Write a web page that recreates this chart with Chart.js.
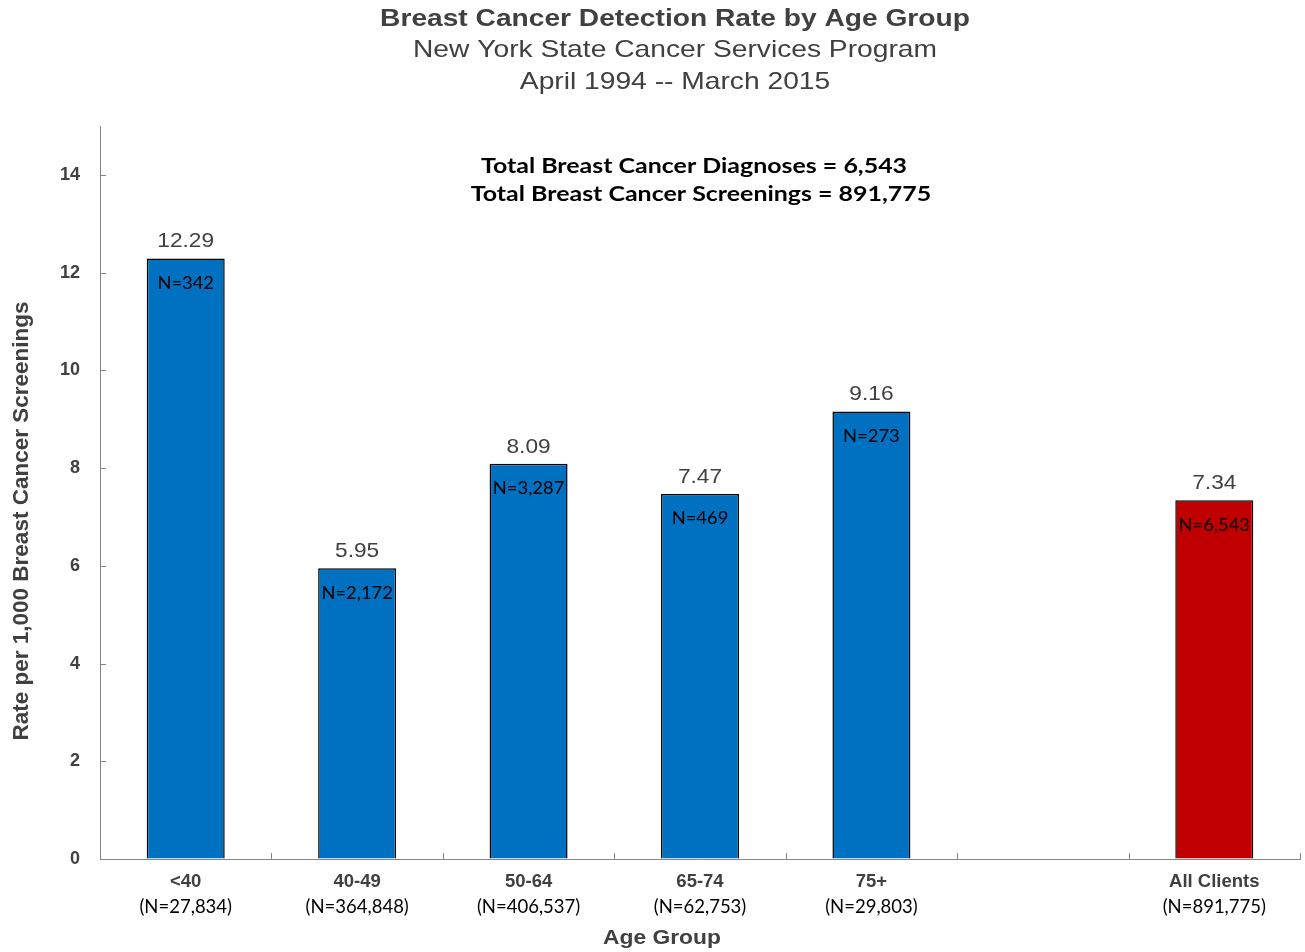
<!DOCTYPE html>
<html>
<head>
<meta charset="utf-8">
<script src="https://cdn.jsdelivr.net/npm/chart.js@4/dist/chart.umd.min.js"></script>
<style>
  html, body { margin: 0; padding: 0; background: #fff; }
  #wrap { width: 1305px; height: 952px; position: relative; }
</style>
</head>
<body>
<div id="wrap"><canvas id="rateChart"></canvas></div>
<script>
// data
const ageGroups = ['<40', '40-49', '50-64', '65-74', '75+', '', 'All Clients'];
const screeningCounts = ['(N=27,834)', '(N=364,848)', '(N=406,537)', '(N=62,753)', '(N=29,803)', '', '(N=891,775)'];
const detectionRates = [12.29, 5.95, 8.09, 7.47, 9.16, null, 7.34];
const diagnosisCounts = ['N=342', 'N=2,172', 'N=3,287', 'N=469', 'N=273', '', 'N=6,543'];
const yTickValues = [0, 2, 4, 6, 8, 10, 12, 14];

const titleLines = ['Breast Cancer Detection Rate by Age Group', 'New York State Cancer Services Program', 'April 1994 -- March 2015'];
const totalsLines = ['Total Breast Cancer Diagnoses = 6,543', 'Total Breast Cancer Screenings = 891,775'];

const BLUE = '#0070C0';
const RED = '#C00000';
const AXIS_GREY = '#868686';
const TEXT_GREY = '#404040';
const ARIAL = '"Liberation Sans", Arial, sans-serif';
const CALIBRI = 'Lato, "Open Sans", sans-serif';

const barColors = detectionRates.map((v, i) => ageGroups[i] === 'All Clients' ? RED : BLUE);

// the reference text is a bit wider than it is tall, so stretch it sideways
function wideText(ctx, text, x, y, font, sx) {
    ctx.save();
    ctx.font = font;
    ctx.translate(x, y);
    ctx.scale(sx, 1);
    ctx.fillText(text, 0, 0);
    ctx.restore();
}

// labels on bars, inward tick marks, header and axis titles
const overlayPlugin = {
    id: 'overlay',
    afterDatasetsDraw(chart) {
        const ctx = chart.ctx;
        const meta = chart.getDatasetMeta(0);
        ctx.save();
        ctx.textAlign = 'center';
        meta.data.forEach((bar, i) => {
            if (detectionRates[i] == null) return;
            ctx.fillStyle = TEXT_GREY;
            ctx.textBaseline = 'alphabetic';
            wideText(ctx, detectionRates[i].toFixed(2), bar.x, bar.y - 11, '21px ' + ARIAL, 1.08);
            ctx.fillStyle = '#000';
            ctx.textBaseline = 'middle';
            wideText(ctx, diagnosisCounts[i], bar.x, bar.y + 25, '17px ' + CALIBRI, 1.08);
        });

        // inward tick marks
        const xs = chart.scales.x, ys = chart.scales.y;
        ctx.strokeStyle = AXIS_GREY;
        ctx.lineWidth = 1;
        ctx.beginPath();
        yTickValues.forEach(v => {
            const py = Math.round(ys.getPixelForValue(v)) + 0.5;
            ctx.moveTo(xs.left, py);
            ctx.lineTo(xs.left + 6, py);
        });
        for (let i = 0; i <= ageGroups.length; i++) {
            const px = Math.round(xs.getPixelForValue(i - 0.5)) + 0.5;
            ctx.moveTo(px, ys.bottom);
            ctx.lineTo(px, ys.bottom - 6);
        }
        ctx.stroke();
        ctx.restore();
    },
    afterDraw(chart) {
        const ctx = chart.ctx;
        ctx.save();
        ctx.textAlign = 'center';
        ctx.textBaseline = 'middle';
        ctx.fillStyle = TEXT_GREY;
        wideText(ctx, titleLines[0], 675, 19, 'bold 24px ' + ARIAL, 1.173);
        wideText(ctx, titleLines[1], 675, 50, '24px ' + ARIAL, 1.175);
        wideText(ctx, titleLines[2], 675, 82, '24px ' + ARIAL, 1.175);

        ctx.fillStyle = '#000';
        wideText(ctx, totalsLines[0], 694, 166, 'bold 21.5px ' + CALIBRI, 1.16);
        wideText(ctx, totalsLines[1], 701, 194, 'bold 21.5px ' + CALIBRI, 1.16);

        ctx.fillStyle = TEXT_GREY;
        wideText(ctx, 'Age Group', 662, 938, 'bold 20px ' + ARIAL, 1.14);

        ctx.translate(22, 521);
        ctx.rotate(-Math.PI / 2);
        ctx.font = 'bold 22.5px ' + ARIAL;
        ctx.fillText('Rate per 1,000 Breast Cancer Screenings', 0, 0);
        ctx.restore();
    }
};

new Chart(document.getElementById('rateChart'), {
    type: 'bar',
    data: {
        labels: ageGroups,
        datasets: [{
            data: detectionRates,
            backgroundColor: barColors,
            borderColor: '#000',
            borderWidth: 1.5,
            barPercentage: 0.455,
            categoryPercentage: 1
        }]
    },
    options: {
        responsive: true,
        maintainAspectRatio: false,
        animation: false,
        layout: { padding: { top: 126, right: 5, bottom: 19, left: 0 } },
        plugins: {
            legend: { display: false },
            tooltip: { enabled: false }
        },
        scales: {
            x: {
                type: 'category',
                position: 'bottom',
                grid: { display: true, drawOnChartArea: false, drawTicks: false },
                border: { display: true, color: AXIS_GREY, width: 1 },
                ticks: {
                    color: TEXT_GREY,
                    font: { family: ARIAL, size: 18.5, weight: 'bold' },
                    padding: 12,
                    maxRotation: 0,
                    autoSkip: false
                },
                afterFit(scale) { scale.height = 34; }
            },
            x2: {
                type: 'category',
                position: 'bottom',
                labels: screeningCounts,
                grid: { display: false, drawTicks: false },
                border: { display: false },
                ticks: {
                    color: '#000',
                    font: { family: CALIBRI, size: 18.5 },
                    padding: 3,
                    maxRotation: 0,
                    autoSkip: false
                },
                afterFit(scale) { scale.height = 40; }
            },
            y: {
                min: 0,
                max: 15,
                grid: { display: true, drawOnChartArea: false, drawTicks: false },
                border: { display: true, color: AXIS_GREY, width: 1 },
                ticks: {
                    stepSize: 2,
                    color: TEXT_GREY,
                    font: { family: ARIAL, size: 18, weight: 'bold' },
                    padding: 20,
                    callback: v => yTickValues.includes(v) ? v : ''
                },
                afterFit(scale) { scale.width = 100; }
            }
        }
    },
    plugins: [overlayPlugin]
});
</script>
</body>
</html>
